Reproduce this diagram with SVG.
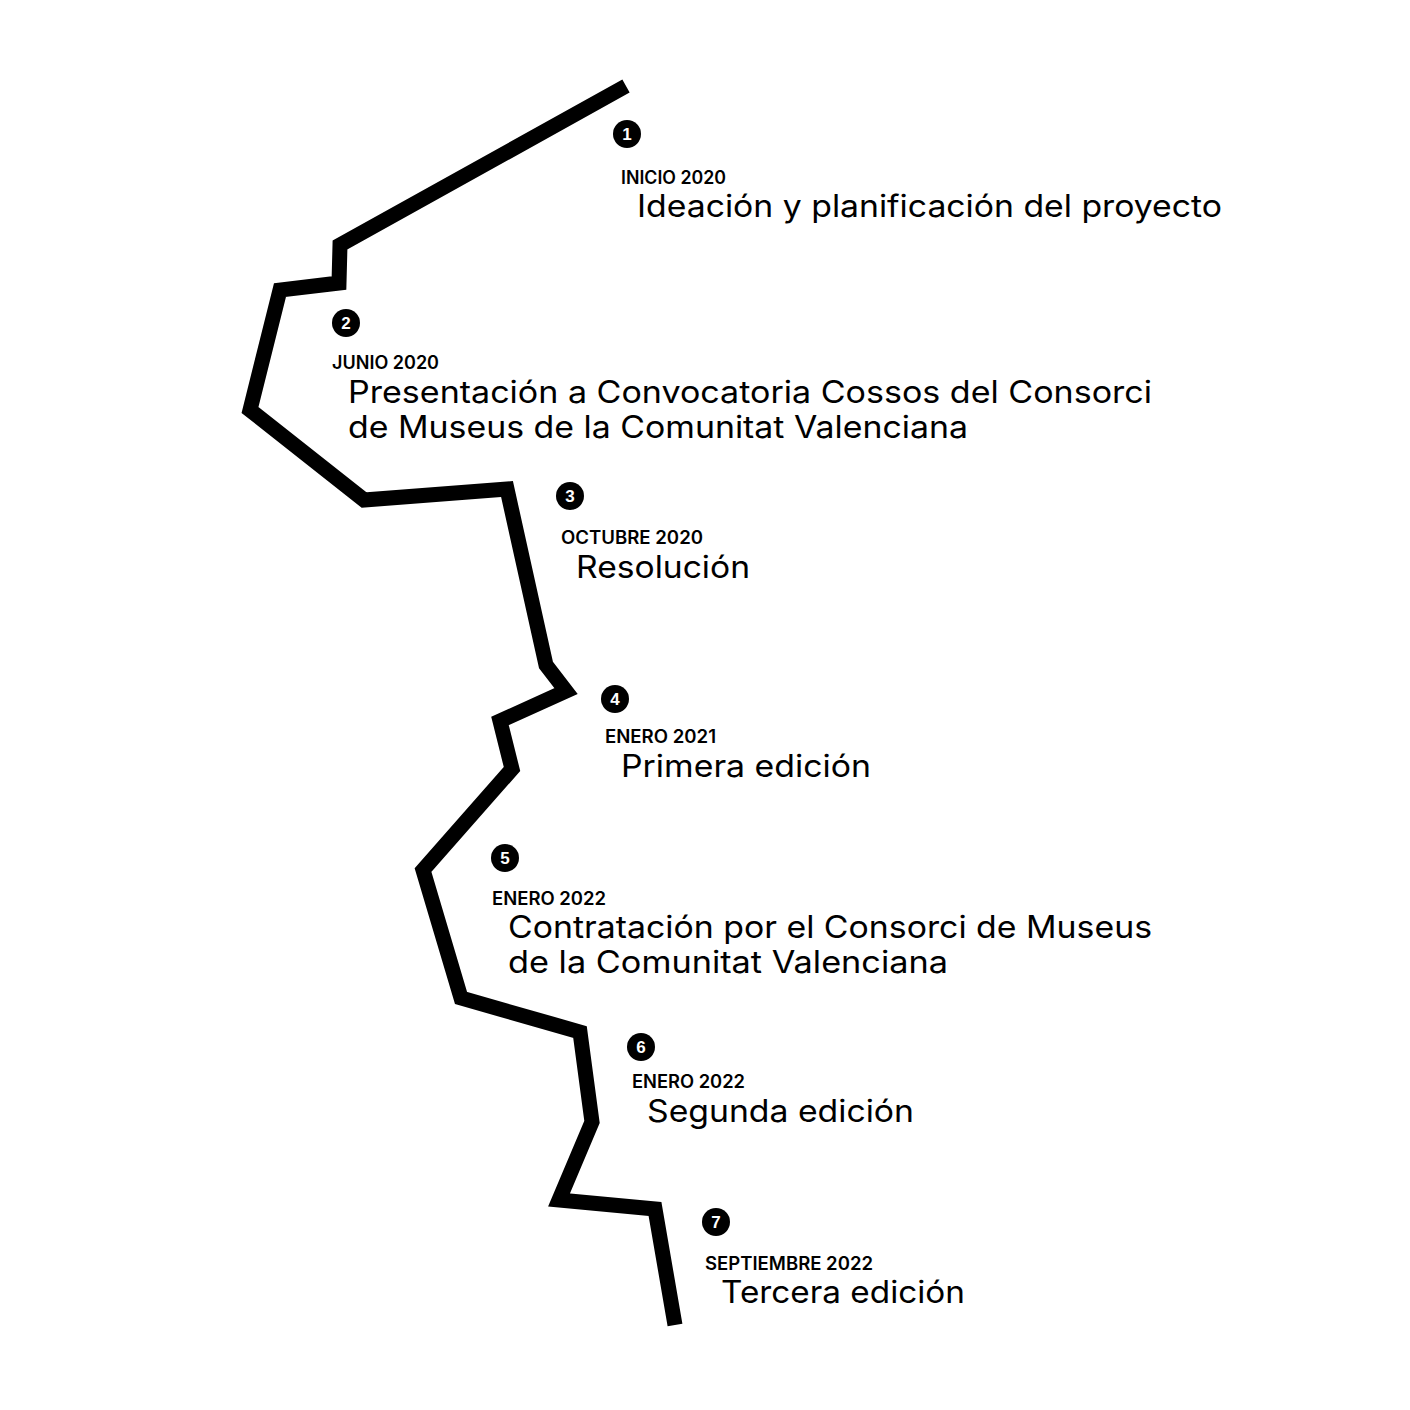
<svg xmlns="http://www.w3.org/2000/svg" width="1410" height="1410" viewBox="0 0 1410 1410">
<style>
.line{fill:none;stroke:#000;stroke-width:15;stroke-linejoin:miter;stroke-miterlimit:10;stroke-linecap:butt}
.dot{fill:#000}
.num{font-family:"Liberation Sans",Arial,sans-serif;font-weight:bold;font-size:17px;fill:#fff;text-anchor:middle}
.lab{font-family:Inter,"Liberation Sans",sans-serif;font-weight:600;font-size:18px;fill:#000}
.head{font-family:Inter,"Liberation Sans",Arial,sans-serif;font-weight:400;font-size:31px;fill:#000}
</style>
<rect width="1410" height="1410" fill="#fff"/>
<g id="connectors">
<polyline class="line" points="626,86 340,245 339,283 280,290 250,410 364,500 507,489 546,665 566,691 500,721 512,769 423,870 461,998 580,1032 592,1122 559,1200 655,1209 675,1325"/>
</g>
<g id="node1">
<circle class="dot" cx="627" cy="134" r="14"/><text class="num" x="627" y="140">1</text>
<text class="lab" x="621" y="184" textLength="105" lengthAdjust="spacingAndGlyphs">INICIO 2020</text>
<text class="head" x="637" y="217" textLength="585" lengthAdjust="spacingAndGlyphs">Ideación y planificación del proyecto</text>
</g>
<g id="node2">
<circle class="dot" cx="346" cy="323" r="14"/><text class="num" x="346" y="329">2</text>
<text class="lab" x="332" y="369" textLength="107" lengthAdjust="spacingAndGlyphs">JUNIO 2020</text>
<text class="head" x="348" y="403" textLength="804" lengthAdjust="spacingAndGlyphs">Presentación a Convocatoria Cossos del Consorci</text>
<text class="head" x="348" y="438" textLength="620" lengthAdjust="spacingAndGlyphs">de Museus de la Comunitat Valenciana</text>
</g>
<g id="node3">
<circle class="dot" cx="570" cy="496" r="14"/><text class="num" x="570" y="502">3</text>
<text class="lab" x="561" y="544" textLength="142" lengthAdjust="spacingAndGlyphs">OCTUBRE 2020</text>
<text class="head" x="576" y="578" textLength="174" lengthAdjust="spacingAndGlyphs">Resolución</text>
</g>
<g id="node4">
<circle class="dot" cx="615" cy="699" r="14"/><text class="num" x="615" y="705">4</text>
<text class="lab" x="605" y="743" textLength="111" lengthAdjust="spacingAndGlyphs">ENERO 2021</text>
<text class="head" x="621" y="777" textLength="250" lengthAdjust="spacingAndGlyphs">Primera edición</text>
</g>
<g id="node5">
<circle class="dot" cx="505" cy="858" r="14"/><text class="num" x="505" y="864">5</text>
<text class="lab" x="492" y="905" textLength="114" lengthAdjust="spacingAndGlyphs">ENERO 2022</text>
<text class="head" x="508" y="938" textLength="644" lengthAdjust="spacingAndGlyphs">Contratación por el Consorci de Museus</text>
<text class="head" x="508" y="973" textLength="440" lengthAdjust="spacingAndGlyphs">de la Comunitat Valenciana</text>
</g>
<g id="node6">
<circle class="dot" cx="641" cy="1047" r="14"/><text class="num" x="641" y="1053">6</text>
<text class="lab" x="632" y="1088" textLength="113" lengthAdjust="spacingAndGlyphs">ENERO 2022</text>
<text class="head" x="647" y="1122" textLength="267" lengthAdjust="spacingAndGlyphs">Segunda edición</text>
</g>
<g id="node7">
<circle class="dot" cx="716" cy="1222" r="14"/><text class="num" x="716" y="1228">7</text>
<text class="lab" x="705" y="1270" textLength="168" lengthAdjust="spacingAndGlyphs">SEPTIEMBRE 2022</text>
<text class="head" x="721" y="1303" textLength="244" lengthAdjust="spacingAndGlyphs">Tercera edición</text>
</g>
</svg>
